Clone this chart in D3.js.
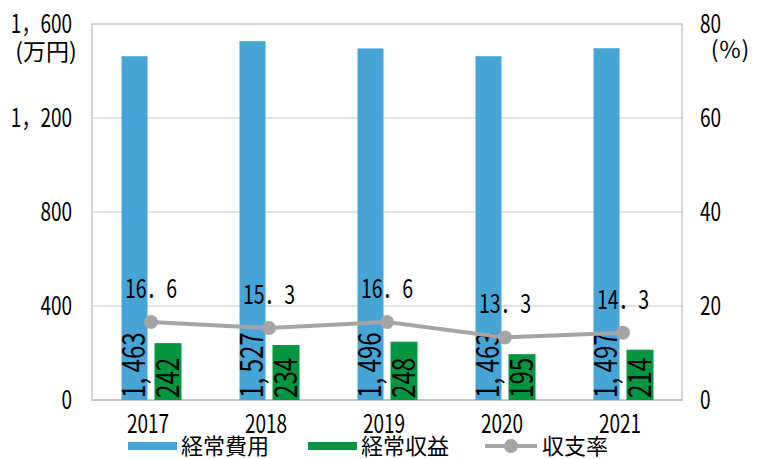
<!DOCTYPE html>
<html lang="ja">
<head>
<meta charset="utf-8">
<script src="https://cdn.jsdelivr.net/npm/d3@7"></script>
<style>
  body { margin: 0; background: #fff; }
  text { font-family: "Noto Sans CJK JP", "Noto Sans", sans-serif; fill: #000; }
</style>
</head>
<body>
<script>
var years = ["2017", "2018", "2019", "2020", "2021"];
var expense = [1463, 1527, 1496, 1463, 1497];   // 経常費用
var income = [242, 234, 248, 195, 214];          // 経常収益
var ratio = [16.6, 15.3, 16.6, 13.3, 14.3];      // 収支率
var leftTicks = [0, 400, 800, 1200, 1600];
var rightTicks = [0, 20, 40, 60, 80];

var W = 768, H = 459;
var plotL = 92, plotR = 682, plotT = 24, plotB = 400;

var svg = d3.select("body").append("svg")
    .attr("width", W).attr("height", H);

var x = d3.scaleBand().domain(years).range([plotL, plotR]);
var y = d3.scaleLinear().domain([0, 1600]).range([plotB, plotT]);
var y2 = d3.scaleLinear().domain([0, 80]).range([plotB, plotT]);

function fmt(v, sep) { return v >= 1000 ? Math.floor(v / 1000) + (sep || "，") + String(v % 1000).padStart(3, "0") : String(v); }
function fmtR(v) { return v.toFixed(1).replace(".", "．"); }

// grid
svg.append("g").selectAll("line")
    .data(leftTicks.slice(1, 4))
  .enter().append("line")
    .attr("x1", plotL).attr("x2", plotR)
    .attr("y1", d => y(d)).attr("y2", d => y(d))
    .attr("stroke", "#d9d9d9").attr("stroke-width", 1.5);

// frame
svg.append("rect")
    .attr("x", plotL).attr("y", plotT)
    .attr("width", plotR - plotL).attr("height", plotB - plotT)
    .attr("fill", "none").attr("stroke", "#c8c8c8").attr("stroke-width", 1.5);
svg.append("line")
    .attr("x1", plotL).attr("x2", plotR).attr("y1", plotB).attr("y2", plotB)
    .attr("stroke", "#bfbfbf").attr("stroke-width", 1.5);

var bw = 26, gap = 7;

// bars
svg.append("g").selectAll("rect")
    .data(expense)
  .enter().append("rect")
    .attr("x", (d, i) => x(years[i]) + x.bandwidth() / 2 - gap / 2 - bw)
    .attr("y", d => y(d))
    .attr("width", bw)
    .attr("height", d => plotB - y(d))
    .attr("fill", "#46a5d6");

svg.append("g").selectAll("rect")
    .data(income)
  .enter().append("rect")
    .attr("x", (d, i) => x(years[i]) + x.bandwidth() / 2 + gap / 2)
    .attr("y", d => y(d))
    .attr("width", bw + 1)
    .attr("height", d => plotB - y(d))
    .attr("fill", "#00963f");

// rotated bar labels
function barLabel(data, off) {
  svg.append("g").selectAll("text")
      .data(data)
    .enter().append("text")
      .attr("transform", (d, i) => "translate(" + (x(years[i]) + x.bandwidth() / 2 + off) + "," + (plotB - 2) + ") rotate(-90) scale(0.78,1)")
      .attr("font-size", 31)
      .text(d => fmt(d, ", "));
}
barLabel(expense, -gap / 2 - 3);
barLabel(income, gap / 2 + bw - 2);

// line
var line = d3.line()
    .x((d, i) => x(years[i]) + x.bandwidth() / 2)
    .y(d => y2(d));
svg.append("path")
    .datum(ratio)
    .attr("d", line)
    .attr("fill", "none").attr("stroke", "#a5a5a5").attr("stroke-width", 4);
svg.append("g").selectAll("circle")
    .data(ratio)
  .enter().append("circle")
    .attr("cx", (d, i) => x(years[i]) + x.bandwidth() / 2)
    .attr("cy", d => y2(d))
    .attr("r", 7).attr("fill", "#a5a5a5");
svg.append("g").selectAll("text")
    .data(ratio)
  .enter().append("text")
    .attr("transform", (d, i) => "translate(" + (x(years[i]) + x.bandwidth() / 2) + "," + (y2(d) - 24) + ") scale(0.78,1)")
    .attr("text-anchor", "middle")
    .attr("font-size", 25)
    .text(d => fmtR(d));

// axes labels
svg.append("g").selectAll("text")
    .data(leftTicks)
  .enter().append("text")
    .attr("transform", d => "translate(72," + y(d) + ") scale(0.76,1)")
    .attr("text-anchor", "end").attr("dy", "0.35em")
    .attr("font-size", 25)
    .text(d => fmt(d));
svg.append("text")
    .attr("x", 46).attr("y", 52)
    .attr("text-anchor", "middle").attr("dy", "0.35em")
    .attr("font-size", 23)
    .text("(万円)");

svg.append("g").selectAll("text")
    .data(rightTicks)
  .enter().append("text")
    .attr("transform", d => "translate(700," + y2(d) + ") scale(0.76,1)")
    .attr("dy", "0.35em")
    .attr("font-size", 25)
    .text(d => d);
svg.append("text")
    .attr("x", 730).attr("y", 50)
    .attr("text-anchor", "middle").attr("dy", "0.35em")
    .attr("font-size", 23)
    .text("(％)");

svg.append("g").selectAll("text")
    .data(years)
  .enter().append("text")
    .attr("transform", d => "translate(" + (x(d) + x.bandwidth() / 2 - 3) + ",433) scale(0.76,1)")
    .attr("text-anchor", "middle")
    .attr("font-size", 25)
    .text(d => d);

// legend
var legend = [
  { name: "経常費用", color: "#46a5d6", type: "bar", x: 128 },
  { name: "経常収益", color: "#00963f", type: "bar", x: 308 },
  { name: "収支率", color: "#a5a5a5", type: "line", x: 485 }
];
var lg = svg.append("g").selectAll("g")
    .data(legend)
  .enter().append("g")
    .attr("transform", d => "translate(" + d.x + ",446)");
lg.filter(d => d.type === "bar").append("rect")
    .attr("x", 0).attr("y", -4).attr("width", 49).attr("height", 8)
    .attr("fill", d => d.color);
lg.filter(d => d.type === "line").append("line")
    .attr("x1", 0).attr("x2", 52).attr("y1", 0).attr("y2", 0)
    .attr("stroke", d => d.color).attr("stroke-width", 4);
lg.filter(d => d.type === "line").append("circle")
    .attr("cx", 26).attr("cy", 0).attr("r", 7).attr("fill", d => d.color);
lg.append("text")
    .attr("x", d => d.type === "line" ? 57 : 53)
    .attr("dy", "0.36em")
    .attr("font-size", 22)
    .text(d => d.name);
</script>
</body>
</html>
